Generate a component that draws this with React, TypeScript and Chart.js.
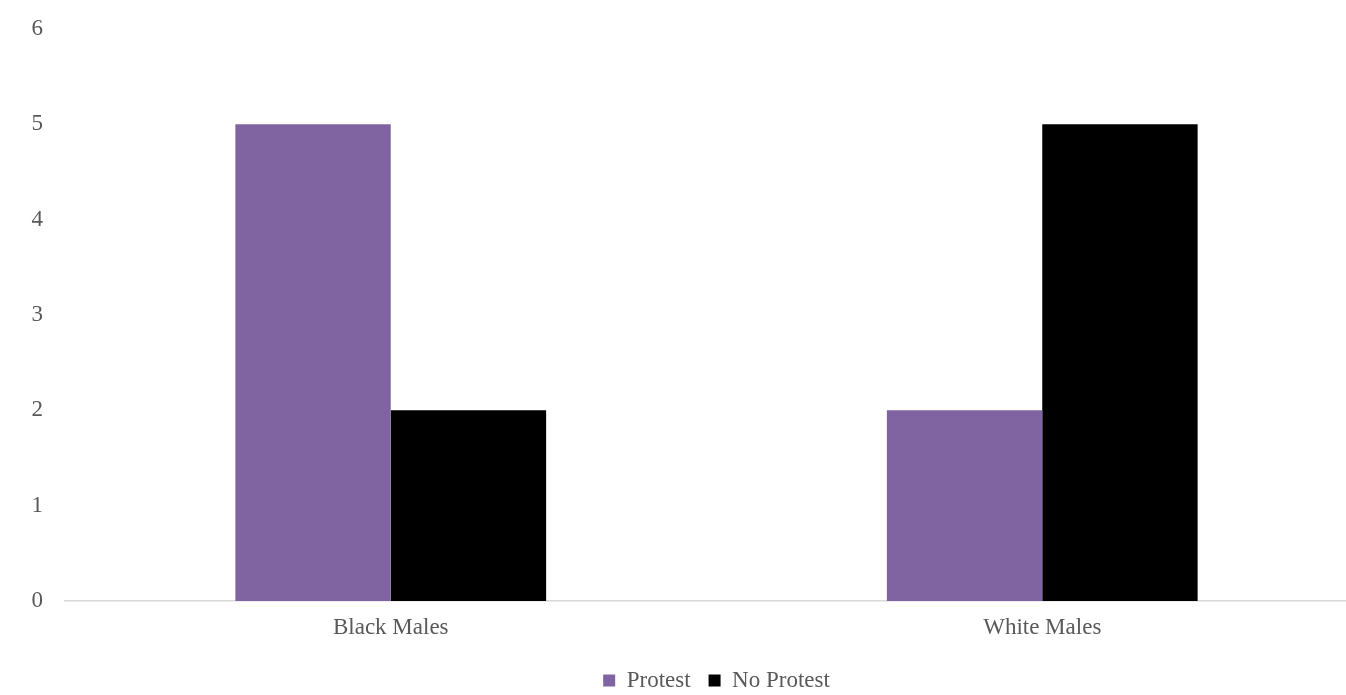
import React, { useEffect, useRef } from "react";
import { Chart, registerables } from "chart.js";

Chart.register(...registerables);

const categories = ["Black Males", "White Males"];
const protestValues = [5, 2];
const noProtestValues = [2, 5];
const yTicks = [0, 1, 2, 3, 4, 5, 6];

export default function App() {
  const ref = useRef<HTMLCanvasElement | null>(null);
  useEffect(() => {
    document.body.style.margin = "0";
    document.body.style.overflow = "hidden";
    const font = { family: "'Liberation Serif', 'Times New Roman', serif", size: 23 };
    const chart = new Chart(ref.current!, {
      type: "bar",
      data: {
        labels: categories,
        datasets: [
          { label: "Protest", data: protestValues, backgroundColor: "#8064A2", categoryPercentage: 0.477, barPercentage: 1 },
          { label: "No Protest", data: noProtestValues, backgroundColor: "#000000", categoryPercentage: 0.477, barPercentage: 1 },
        ],
      },
      options: {
        animation: false,
        responsive: true,
        maintainAspectRatio: false,
        layout: { padding: { top: 29, right: 0, left: 0, bottom: -7 } },
        plugins: {
          tooltip: { enabled: false },
          legend: {
            position: "bottom",
            fullSize: false,
            labels: {
              font,
              color: "#595959",
              boxWidth: 12,
              boxHeight: 12,
              padding: 18,
            },
          },
        },
        scales: {
          x: {
            grid: { display: false, drawTicks: false },
            border: { display: true, color: "#d9d9d9", width: 1.5 },
            ticks: { font, color: "#595959", padding: 13 },
            afterFit: (s: any) => {
              s.height = 50;
            },
          },
          y: {
            min: 0,
            max: 6,
            afterBuildTicks: (s: any) => {
              s.ticks = yTicks.map((v) => ({ value: v }));
            },
            afterFit: (s: any) => {
              s.width = 65;
              s.paddingTop = 0;
              s.paddingBottom = 0;
            },
            grid: { display: false, drawTicks: false },
            border: { display: false },
            ticks: { font, color: "#595959", padding: 22 },
          },
        },
      },
    });
    return () => chart.destroy();
  }, []);
  return (
    <div style={{ width: 1346, height: 695, overflow: "hidden", position: "relative" }}>
      <div style={{ width: 1368, height: 695, position: "absolute", left: 0, top: 0 }}>
        <canvas ref={ref} />
      </div>
    </div>
  );
}
